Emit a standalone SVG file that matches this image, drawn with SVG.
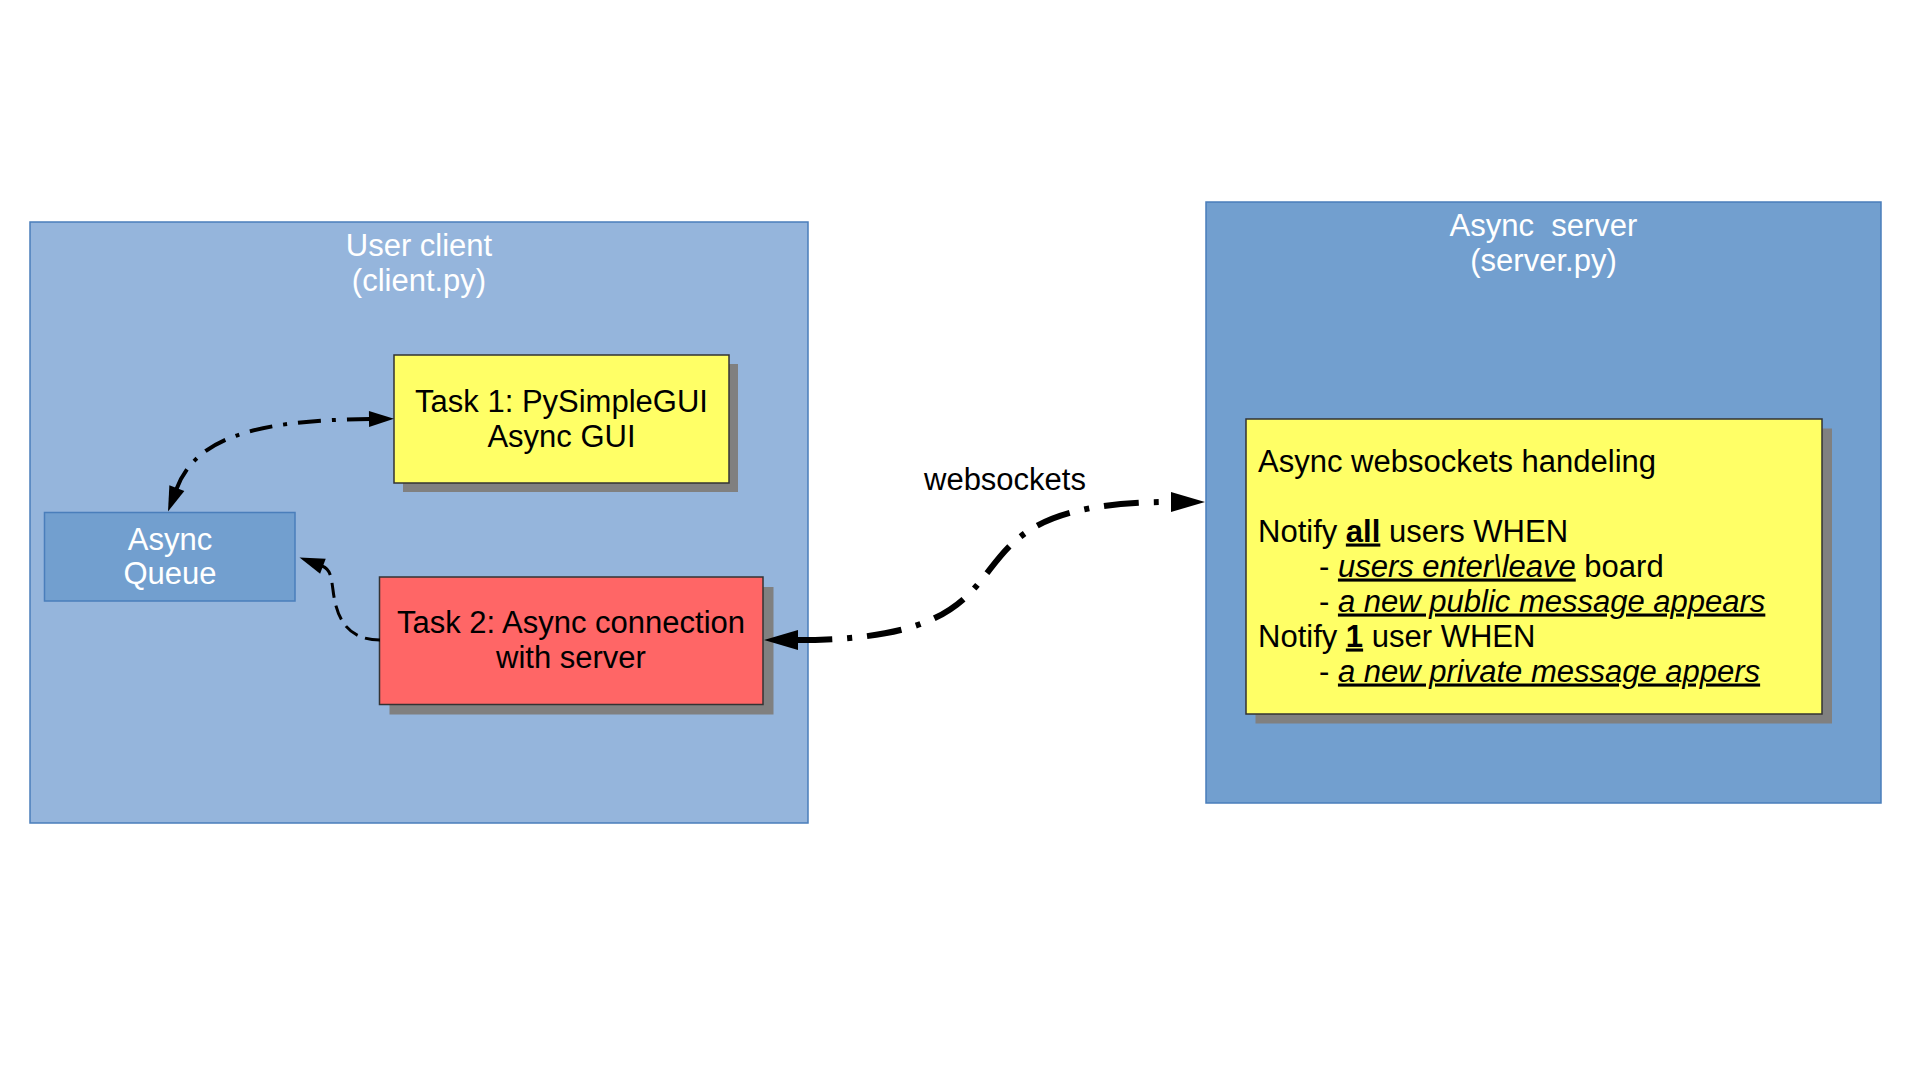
<svg xmlns="http://www.w3.org/2000/svg" width="1920" height="1083" viewBox="0 0 1920 1083">
<style>
  text { font-family: "Liberation Sans", Arial, sans-serif; font-size: 31px; }
  .white { fill: #ffffff; }
  .dark { fill: #000000; }
  .mid { text-anchor: middle; }
  .container { stroke: #4a7ebb; stroke-width: 1.5; }
  .inner { stroke: #333333; stroke-width: 1.5; }
  .shadow { fill: #808080; }
  .conn { fill: none; stroke: #000000; stroke-linecap: butt; }
  .u { text-decoration: underline; }
  .b { font-weight: bold; }
  .i { font-style: italic; }
</style>
<defs>
  <marker id="arrS" markerUnits="userSpaceOnUse" markerWidth="30" markerHeight="20" viewBox="-2 -10 30 20" refX="0" refY="0" orient="auto-start-reverse" overflow="visible">
    <path d="M-1,-8 L24,0 L-1,8 Z" fill="#000000"/>
  </marker>
  <marker id="arrL" markerUnits="userSpaceOnUse" markerWidth="40" markerHeight="24" viewBox="-2 -12 40 24" refX="0" refY="0" orient="auto-start-reverse" overflow="visible">
    <path d="M-1,-10 L33,0 L-1,10 Z" fill="#000000"/>
  </marker>
</defs>
<rect width="1920" height="1083" fill="#ffffff"/>

<g id="user-client">
  <rect class="container" x="30" y="222" width="778" height="601" fill="#95b5dc"/>
  <text class="white mid" x="419" y="256">User client</text>
  <text class="white mid" x="419" y="290.5">(client.py)</text>
</g>

<g id="async-server">
  <rect class="container" x="1206" y="202" width="675" height="601" fill="#729fcf"/>
  <text class="white mid" x="1543.5" y="236" xml:space="preserve">Async  server</text>
  <text class="white mid" x="1543.5" y="270.5">(server.py)</text>
</g>

<g id="task1">
  <rect class="shadow" x="403" y="364" width="335" height="128"/>
  <rect class="inner" x="394" y="355" width="335" height="128" fill="#ffff66"/>
  <text class="dark mid" x="561.5" y="412">Task 1: PySimpleGUI</text>
  <text class="dark mid" x="561.5" y="446.5">Async GUI</text>
</g>

<g id="async-queue">
  <rect x="44.5" y="512.5" width="250.5" height="88.5" fill="#729fcf" stroke="#4a7ebb" stroke-width="1.5"/>
  <text class="white mid" x="170" y="549.5">Async</text>
  <text class="white mid" x="170" y="584">Queue</text>
</g>

<g id="task2">
  <rect class="shadow" x="389.5" y="587" width="384" height="127.5"/>
  <rect class="inner" x="379.5" y="577" width="383.5" height="127.5" fill="#ff6666"/>
  <text class="dark mid" x="571" y="633">Task 2: Async connection</text>
  <text class="dark mid" x="571" y="667.5">with server</text>
</g>

<g id="websockets-handling">
  <rect class="shadow" x="1255.5" y="428.5" width="576.5" height="295"/>
  <rect class="inner" x="1246" y="419" width="576" height="295" fill="#ffff66"/>
  <text class="dark" x="1258" y="472">Async websockets handeling</text>
  <text class="dark" x="1258" y="541.5">Notify <tspan class="b u">all</tspan> users WHEN</text>
  <text class="dark" x="1319" y="576.5" xml:space="preserve">- <tspan class="i u">users enter\leave</tspan> board</text>
  <text class="dark" x="1319" y="611.5" xml:space="preserve">- <tspan class="i u">a new public message appears</tspan></text>
  <text class="dark" x="1258" y="646.5">Notify <tspan class="b u">1</tspan> user WHEN</text>
  <text class="dark" x="1319" y="681.5" xml:space="preserve">- <tspan class="i u">a new private message appers</tspan></text>
</g>

<g id="connectors">
  <path class="conn" d="M 370 419 C 250 420, 195 440, 176.5 489" stroke-width="4" stroke-dasharray="23 11 4 11" marker-start="url(#arrS)" marker-end="url(#arrS)"/>
  <path class="conn" d="M 380 640 C 345 640, 336 615, 333 590 C 331 575, 330 569, 322 566" stroke-width="3" stroke-dasharray="15 8" marker-end="url(#arrS)"/>
  <path class="conn" d="M 797 640 C 1070 640, 910 502, 1172 502" stroke-width="6" stroke-dasharray="35 15 5 15" marker-start="url(#arrL)" marker-end="url(#arrL)"/>
  <text class="dark" x="924" y="490">websockets</text>
</g>
</svg>
